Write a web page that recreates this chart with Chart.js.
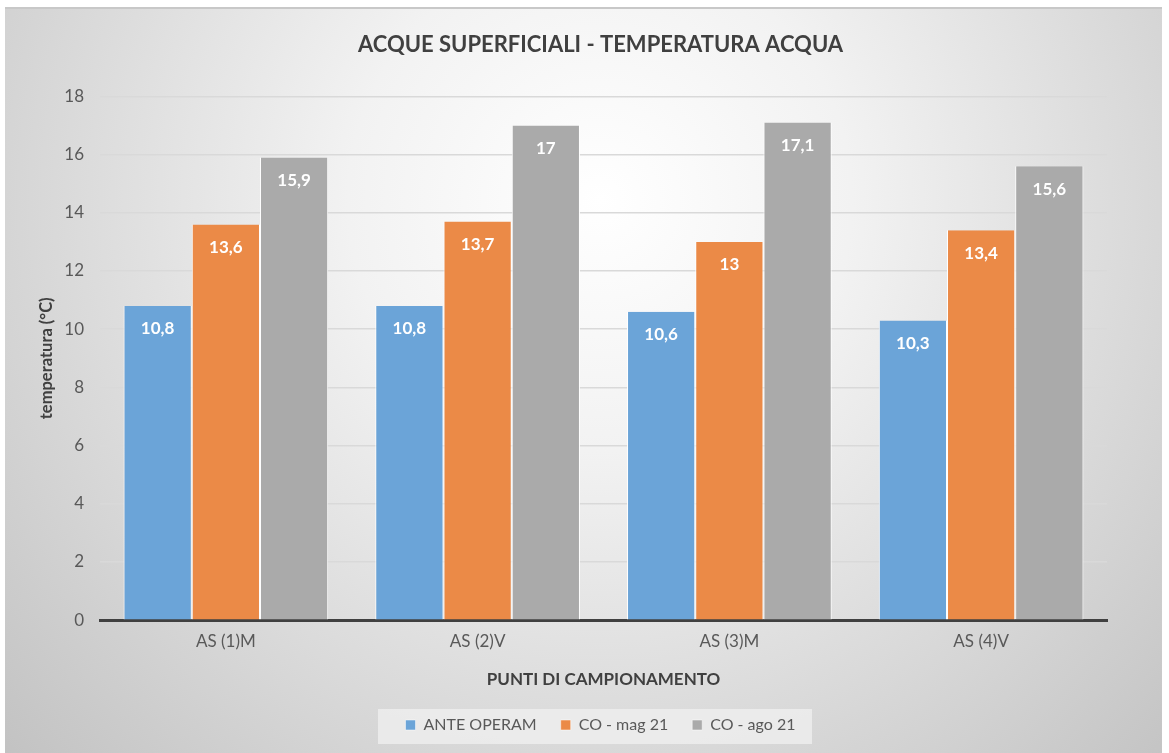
<!DOCTYPE html>
<html>
<head>
<meta charset="utf-8">
<script src="https://cdn.jsdelivr.net/npm/chart.js@4/dist/chart.umd.min.js"></script>
<style>
  html, body { margin: 0; padding: 0; background: #ffffff; }
  #wrap { width: 1169px; height: 753px; }
</style>
</head>
<body>
<div id="wrap"><canvas id="chart" width="1169" height="753"></canvas></div>
<script>
// categories and series
const categories = ['AS (1)M', 'AS (2)V', 'AS (3)M', 'AS (4)V'];
const anteOperam = [10.8, 10.8, 10.6, 10.3];
const coMag21 = [13.6, 13.7, 13.0, 13.4];
const coAgo21 = [15.9, 17.0, 17.1, 15.6];
const seriesNames = ['ANTE OPERAM', 'CO - mag 21', 'CO - ago 21'];
const yTicks = [0, 2, 4, 6, 8, 10, 12, 14, 16, 18];

const FONT = 'Lato, "Open Sans", sans-serif';
const colors = ['#6ba4d8', '#eb8a47', '#aaaaaa'];

// radial grey background like the office chart style
const backgroundPlugin = {
    id: 'bg',
    beforeDraw(chart) {
        const ctx = chart.ctx;
        ctx.save();
        ctx.fillStyle = '#ffffff';
        ctx.fillRect(0, 0, chart.width, chart.height);
        const g = ctx.createRadialGradient(600, 200, 0, 600, 200, 840);
        g.addColorStop(0, '#ffffff');
        g.addColorStop(0.3, '#f2f2f2');
        g.addColorStop(1, '#c0c0c0');
        ctx.fillStyle = g;
        ctx.fillRect(5, 8, 1157, 745);
        ctx.fillStyle = '#c8c8c8';
        ctx.fillRect(5, 7, 1157, 2);
        // legend box
        ctx.fillStyle = 'rgba(240,240,240,0.75)';
        ctx.fillRect(378, 709, 434, 35);
        ctx.restore();
    }
};

// value labels inside the top of each bar
const valueLabels = {
    id: 'valueLabels',
    afterDatasetsDraw(chart) {
        const ctx = chart.ctx;
        ctx.save();
        ctx.font = 'bold 17px ' + FONT;
        ctx.fillStyle = '#ffffff';
        ctx.textAlign = 'center';
        ctx.textBaseline = 'middle';
        chart.data.datasets.forEach((ds, i) => {
            chart.getDatasetMeta(i).data.forEach((bar, j) => {
                const txt = String(ds.data[j]).replace('.', ',');
                ctx.fillText(txt, bar.x, bar.y + 23);
            });
        });
        ctx.restore();
    }
};

const ctx = document.getElementById('chart').getContext('2d');
new Chart(ctx, {
    type: 'bar',
    data: {
        labels: categories,
        datasets: [
            { label: seriesNames[0], data: anteOperam, backgroundColor: colors[0] },
            { label: seriesNames[1], data: coMag21, backgroundColor: colors[1] },
            { label: seriesNames[2], data: coAgo21, backgroundColor: colors[2] }
        ].map(d => Object.assign(d, {
            borderColor: '#ffffff',
            borderWidth: { left: 1, right: 1, top: 0, bottom: 0 },
            borderSkipped: false,
            categoryPercentage: 0.813,
            barPercentage: 1.0
        }))
    },
    options: {
        responsive: false,
        animation: false,
        layout: { padding: { left: 37, right: 5, top: 22, bottom: 10 } },
        plugins: {
            title: {
                display: true,
                text: 'ACQUE SUPERFICIALI - TEMPERATURA ACQUA',
                color: '#404040',
                font: { family: FONT, size: 22, weight: 'bold' },
                padding: { top: 10, bottom: 38 }
            },
            legend: {
                position: 'bottom',
                labels: {
                    color: '#595959',
                    font: { family: FONT, size: 16 },
                    boxWidth: 10,
                    boxHeight: 10,
                    padding: 24
                }
            },
            tooltip: { enabled: false }
        },
        scales: {
            x: {
                grid: { display: false, drawTicks: false },
                border: { display: true, color: '#404040', width: 3 },
                ticks: { color: '#595959', font: { family: FONT, size: 17 }, padding: 11 },
                title: {
                    display: true,
                    text: 'PUNTI DI CAMPIONAMENTO',
                    color: '#404040',
                    font: { family: FONT, size: 17, weight: 'bold' },
                    padding: { top: 7, bottom: 3 }
                }
            },
            y: {
                min: 0,
                max: 18,
                afterBuildTicks(scale) { scale.ticks = yTicks.map(v => ({ value: v })); },
                afterFit(scale) { scale.width = 63; },
                grid: { color: '#d9d9d9', lineWidth: 1.5, drawTicks: false },
                border: { display: false },
                ticks: { color: '#595959', font: { family: FONT, size: 17 }, padding: 16 },
                title: {
                    display: true,
                    text: 'temperatura (°C)',
                    color: '#404040',
                    font: { family: FONT, size: 16.5, weight: 'bold' },
                    padding: { top: 0, bottom: 0 }
                }
            },
            // empty right axis, only keeps the plot off the right edge
            yRight: {
                position: 'right',
                display: true,
                afterFit(scale) { scale.width = 57; },
                grid: { display: false, drawTicks: false },
                border: { display: false },
                ticks: { display: false }
            }
        }
    },
    plugins: [backgroundPlugin, valueLabels]
});
</script>
</body>
</html>
